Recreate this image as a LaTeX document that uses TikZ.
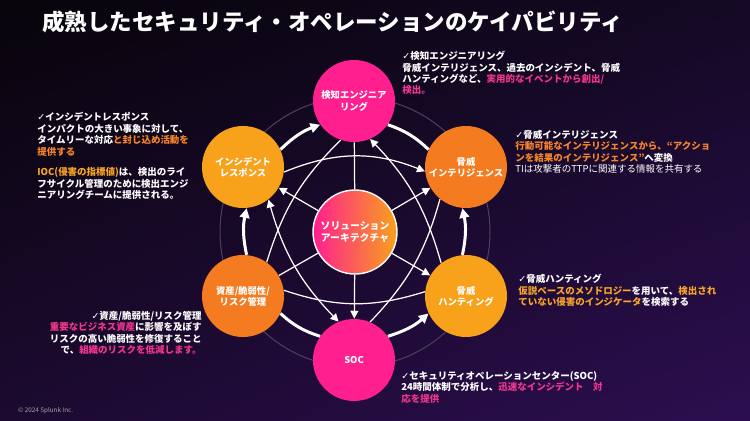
\documentclass[tikz,border=0pt]{standalone}
\usepackage{fontspec}
\setmainfont{Noto Sans CJK JP}
\newfontfamily\symfont{DejaVu Sans}
\usepackage{xcolor}
\usepackage{tikz}
\usetikzlibrary{arrows.meta, shapes, shadings}

\definecolor{spPink}{HTML}{FF1F8F}
\definecolor{spOrange}{HTML}{F47B20}
\definecolor{spAmber}{HTML}{F8A21C}
\definecolor{txPink}{HTML}{F2358F}
\definecolor{txOrange}{HTML}{F7862A}
\definecolor{txAmber}{HTML}{F8A626}
\definecolor{ringGray}{HTML}{4B4058}
\definecolor{bgUL}{HTML}{07040A}
\definecolor{bgUR}{HTML}{140924}
\definecolor{bgLL}{HTML}{1C0A30}
\definecolor{bgLR}{HTML}{2C0E50}
\newcommand{\chk}{{\symfont ✓}}
\newcommand{\pk}[1]{\textcolor{txPink}{#1}}
\newcommand{\og}[1]{\textcolor{txOrange}{#1}}
\newcommand{\am}[1]{\textcolor{txAmber}{#1}}

\begin{document}
\begin{tikzpicture}[x=0.02cm, y=-0.02cm]
\useasboundingbox (0,0) rectangle (750,420);
\shade[upper left=bgUL, upper right=bgUR, lower left=bgLL, lower right=bgLR] (0,0) rectangle (750,420);

\node[anchor=west, text=white, font=\fontsize{12.8}{14}\selectfont\bfseries] (title) at (36,22)
  {成熟したセキュリティ・オペレーションのケイパビリティ};
\node[anchor=west, text=gray!70, font=\fontsize{3.6}{4}\selectfont] (copy) at (12,411) {© 2024 Splunk Inc.};

\draw[ringGray, line width=0.6pt] (355,232) circle[radius=2.7cm];

\begin{scope}[every node/.style={circle, minimum size=1.64cm, inner sep=0pt, text=white, align=center,
                                 font=\fontsize{5.3}{6.3}\selectfont\bfseries}]
  \node[fill=spPink] (det) at (354,101) {検知エンジニア\\リング};
  \node[fill=spOrange] (ti) at (466,167) {脅威\\インテリジェンス};
  \node[fill=spAmber] (th) at (466,296) {脅威\\ハンティング};
  \node[fill=spPink] (soc) at (354,360) {SOC};
  \node[fill=spOrange] (arm) at (243,296) {資産/脆弱性/\\リスク管理};
  \node[fill=spAmber] (ir) at (243,167) {インシデント\\レスポンス};
  \node[minimum size=1.68cm, left color=spPink, right color=spAmber, draw=white, line width=0.8pt,
        font=\fontsize{5.6}{6.6}\selectfont\bfseries] (sol) at (355,232) {ソリューション\\アーキテクチャ};
\end{scope}

\begin{scope}[>={Triangle[white, length=5.5pt, width=5.5pt]},
              every edge/.style={draw=white, line width=1.7pt}]
    \path [->] (ir.25) edge[bend left=12] (det.215);
    \path (det.-35) edge[bend left=12] (ti.155);
    \path [<-] (ti.-95) edge[bend left=12] (th.95);
    \path [<-] (th.-155) edge[bend left=12] (soc.35);
    \path (soc.145) edge[bend left=12] (arm.-25);
    \path [->] (arm.85) edge[bend left=12] (ir.275);
\end{scope}

\begin{scope}[>={Triangle[white, length=4.5pt, width=4.5pt]},
              every edge/.style={draw=white, line width=0.7pt}]
    \path (sol) edge (det);
    \path [->] (sol) edge (ti);
    \path [->] (sol) edge (th);
    \path [->] (sol) edge (soc);
    \path (sol) edge (arm);
    \path [->] (sol) edge (ir);
    \path [->] (ir.-7) edge[bend left=22] (ti.186);
    \path (arm.8) edge[bend right=18] (th.174);
    \path [<->] (ir.-52) edge[bend right=14] (soc.112);
    \path [<-] (det.-67) edge[bend left=14] (th.127);
    \path (det.-109) edge[bend right=14] (arm.55);
    \path (soc.67) edge[bend right=14] (ti.-129);
\end{scope}

\begin{scope}[every node/.style={inner sep=0pt, text=white, font=\fontsize{5.4}{6.5}\selectfont\bfseries}]
  \node[anchor=north west, align=left] (detnote) at (402,51)
    {\chk 検知エンジニアリング\\
     脅威インテリジェンス、過去のインシデント、脅威\\
     ハンティングなど、\pk{実用的なイベントから創出/}\\
     \pk{検出。}};
  \node[anchor=north west, align=left, font=\fontsize{5.4}{6.6}\selectfont\bfseries] (irnote) at (37,112)
    {\chk インシデントレスポンス\\
     インパクトの大きい事象に対して、\\
     タイムリーな対応\og{と封じ込め活動を}\\
     \og{提供する}\\[4.9pt]
     \am{IOC(侵害の指標値)}は、検出のライ\\
     フサイクル管理のために検出エンジ\\
     ニアリングチームに提供される。};
  \node[anchor=north west, align=left] (tinote) at (515,130)
    {\chk 脅威インテリジェンス\\
     \og{行動可能なインテリジェンスから、“アクショ}\\
     \og{ンを結果のインテリジェンス”}へ変換\\
     {\mdseries TIは攻撃者のTTPに関連する情報を共有する}};
  \node[anchor=north west, align=left] (thnote) at (518,274)
    {\chk 脅威ハンティング\\
     \am{仮説ベースのメソドロジー}を用いて、\am{検出され}\\
     \am{ていない侵害のインジケータ}を検索する};
  \node[anchor=north east, align=right] (armnote) at (202,311)
    {\chk 資産/脆弱性/リスク管理\\
     \pk{重要なビジネス資産}に影響を及ぼす\\
     リスクの高い脆弱性を修復すること\\
     で、\pk{組織のリスクを低減します。}};
  \node[anchor=north west, align=left] (socnote) at (401,371)
    {\chk セキュリティオペレーションセンター(SOC)\\
     24時間体制で分析し、\pk{迅速なインシデント　対}\\
     \pk{応を提供}};
\end{scope}
\end{tikzpicture}
\end{document}
